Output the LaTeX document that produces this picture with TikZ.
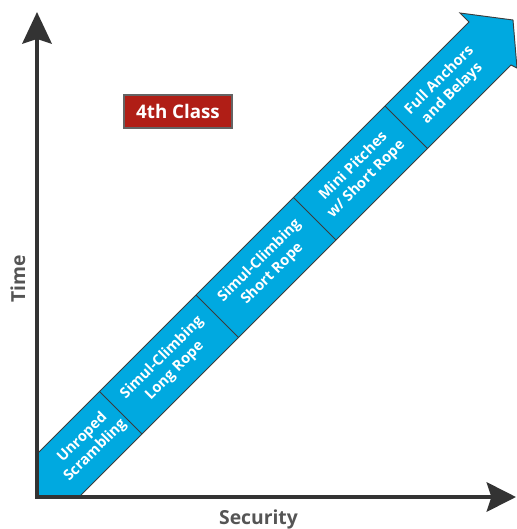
\documentclass[tikz,border=0pt]{standalone}
\usepackage{fontspec}
\setmainfont{Open Sans}
\usetikzlibrary{arrows.meta}
\definecolor{bandBlue}{RGB}{0,169,224}
\definecolor{classRed}{RGB}{176,30,22}
\definecolor{boxGray}{RGB}{100,100,100}
\definecolor{axisGray}{RGB}{51,51,51}
\definecolor{labelGray}{RGB}{85,85,85}
\definecolor{edgeGray}{RGB}{60,60,60}

\tikzset{
    axis/.style={line width=3.4pt, draw=axisGray, line join=miter,
        {Stealth[length=27pt,width=25pt,inset=4pt,fill=axisGray]}-{Stealth[length=25pt,width=25pt,inset=4pt,fill=axisGray]}},
    axislabel/.style={text=labelGray, font=\fontsize{16.5}{20}\selectfont\bfseries},
    stage/.style={rotate=45, text=white, align=center, inner sep=0pt,
        font=\fontsize{12.5}{15.5}\selectfont\bfseries},
    divider/.style={draw=edgeGray, line width=0.8pt},
}

\begin{document}
\begin{tikzpicture}[x=0.03cm, y=-0.03cm]
    \useasboundingbox (0,0) rectangle (517,529);

    % Band with arrow head
    \fill[bandBlue, draw=edgeGray, line width=0.8pt]
        (37,454) -- (469,22) -- (460,13) -- (513,20) -- (517,68)
        -- (511,65) -- (79,497) -- (37,497) -- cycle;

    % Dividers between stages
    \foreach \d in {-292,-99,96,279} {
        \draw[divider] ({(491+\d)/2},{(491-\d)/2}) -- ({(576+\d)/2},{(576-\d)/2});
    }

    % Stages
    \node[stage] (unroped) at (89,444) {Unroped\\Scrambling};
    \node[stage] (simullong) at (168.5,364.5) {Simul-Climbing\\Long Rope};
    \node[stage] (simulshort) at (266,267.5) {Simul-Climbing\\Short Rope};
    \node[stage] (minipitches) at (360,173) {Mini Pitches\\w/ Short Rope};
    \node[stage] (fullanchors) at (446,87) {Full Anchors\\and Belays};

    % Axes
    \draw[axis] (37,12) -- (37,497) -- (516,497);
    \node[axislabel, rotate=90, anchor=base] (time) at (25,279) {Time};
    \node[axislabel, anchor=base] (security) at (258.5,524) {Security};

    % Class tag
    \node[draw=boxGray, fill=classRed, text=white, line width=1.2pt,
        minimum width=3.24cm, minimum height=0.99cm,
        font=\fontsize{16}{19}\selectfont\bfseries] (classtag) at (178,111.5) {4th Class};
\end{tikzpicture}
\end{document}
